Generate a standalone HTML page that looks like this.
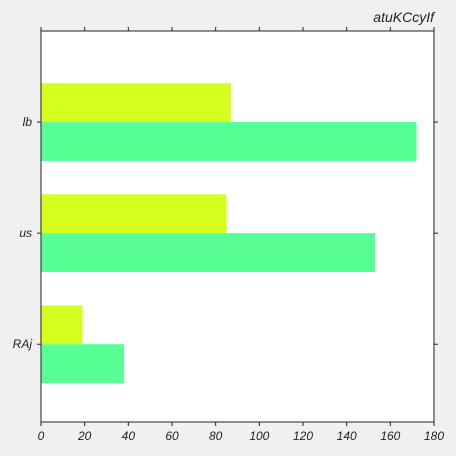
<!DOCTYPE html>
<html><head><meta charset="utf-8"><style>
html,body{margin:0;padding:0;background:#f0f0f0;}
svg{display:block;font-family:"Liberation Sans",sans-serif;}
text{font-style:italic;fill:#222;}
</style></head><body>
<svg id="chart" width="456" height="456" viewBox="0 0 456 456"></svg>
<script>
const categories = ["RAj", "us", "lb"];
const seriesA = [19, 85, 87];
const seriesB = [38, 153, 172];
const xTicks = [0, 20, 40, 60, 80, 100, 120, 140, 160, 180];
const title = "atuKCcyIf";

const NS = "http://www.w3.org/2000/svg";
const svg = document.getElementById("chart");
const L = 41, R = 434, T = 31, B = 422;
const x = v => L + (v - 0) / 180 * (R - L);
const y = i => B - (i + 0.70) / 3.52 * (B - T);
const bh = 0.35 / 3.52 * (B - T);
function mk(tag, attrs, parent) {
  const e = document.createElementNS(NS, tag);
  for (const k in attrs) e.setAttribute(k, attrs[k]);
  (parent || svg).appendChild(e);
  return e;
}
const bg = mk("rect", {x: L, y: T, width: R - L, height: B - T, fill: "#fff"});


categories.forEach((c, i) => {
  const cy = y(i);
  const a = mk("rect", {x: x(0), y: cy - bh, width: x(seriesA[i]) - x(0), height: bh, fill: "#d4ff1f"});
  
  
  const b = mk("rect", {x: x(0), y: cy, width: x(seriesB[i]) - x(0), height: bh, fill: "#58ff94"});
  
  
  mk("line", {x1: L - 4, x2: L, y1: cy, y2: cy, stroke: "#222"});
  mk("line", {x1: R, x2: R + 4, y1: cy, y2: cy, stroke: "#222"});
  const t = mk("text", {x: L - 9, y: cy + 4, "text-anchor": "end", "font-size": 12});
  t.textContent = c;
  
  
});
xTicks.forEach(v => {
  const px = x(v);
  mk("line", {x1: px, x2: px, y1: B, y2: B + 4, stroke: "#222"});
  mk("line", {x1: px, x2: px, y1: T - 4, y2: T, stroke: "#222"});
  const t = mk("text", {x: px, y: B + 18, "text-anchor": "middle", "font-size": 12});
  t.textContent = v;
  
  
});
const frame = mk("rect", {x: L, y: T, width: R - L, height: B - T, fill: "none", stroke: "#222", "stroke-width": 1});


const tt = mk("text", {x: R, y: 22, "text-anchor": "end", "font-size": 14});
tt.textContent = title;


</script>
</body></html>
